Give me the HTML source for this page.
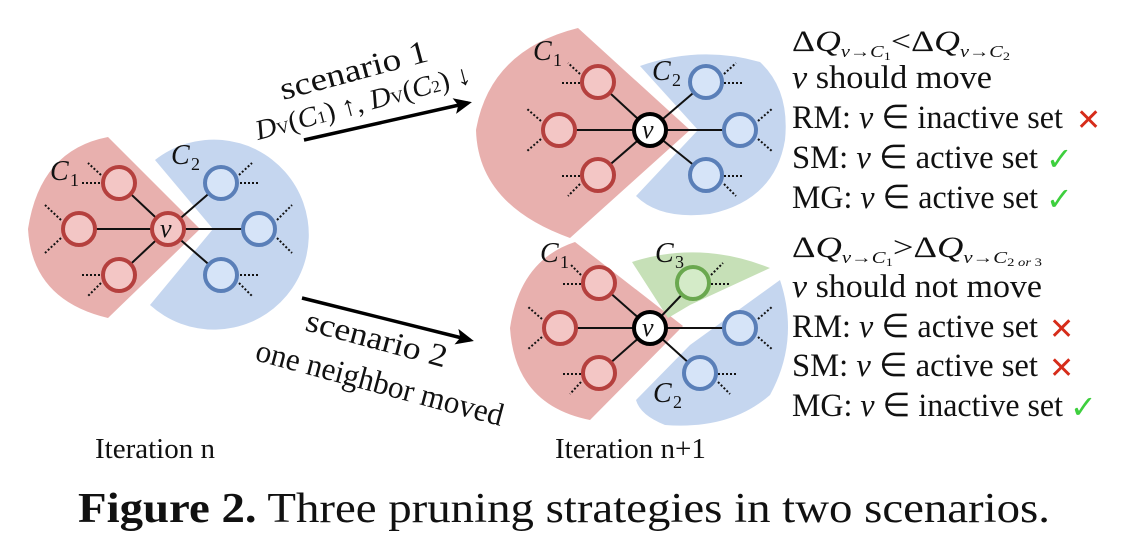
<!DOCTYPE html>
<html><head><meta charset="utf-8"><style>
html,body{margin:0;padding:0;background:#fff;}
svg{display:block;}
text{font-family:"Liberation Serif",serif;fill:#111;}
.i{font-style:italic;}
</style></head><body>
<svg width="1128" height="546" viewBox="0 0 1128 546" xmlns="http://www.w3.org/2000/svg">
<defs>
<marker id="ah" markerWidth="18" markerHeight="16" refX="14" refY="8" orient="auto" markerUnits="userSpaceOnUse">
<path d="M0,0 L18,8 L0,16 L4,8 Z" fill="#000"/></marker>
</defs>

<!-- LEFT GRAPH -->
<path d="M200,229 L108,137 Q40,150 28,229 Q32,300 108,318 Z" fill="#e8b0ae"/>
<path d="M213,229 L155,160 A95,95 0 1 1 150,305 Z" fill="#c5d6ef"/>
<g stroke="#111" stroke-width="2" stroke-dasharray="2,2">
<line x1="101" y1="175" x2="88" y2="163"/><line x1="100" y1="183" x2="80" y2="183"/>
<line x1="61" y1="220" x2="45" y2="205"/><line x1="61" y1="238" x2="45" y2="253"/>
<line x1="100" y1="275" x2="80" y2="275"/><line x1="101" y1="283" x2="88" y2="296"/>
<line x1="239" y1="175" x2="252" y2="163"/><line x1="240" y1="183" x2="258" y2="183"/>
<line x1="277" y1="220" x2="292" y2="205"/><line x1="277" y1="238" x2="292" y2="253"/>
<line x1="240" y1="275" x2="258" y2="275"/><line x1="239" y1="283" x2="252" y2="296"/>
</g>
<g stroke="#111" stroke-width="2">
<line x1="168" y1="229" x2="119" y2="183"/><line x1="168" y1="229" x2="79" y2="229"/><line x1="168" y1="229" x2="119" y2="275"/>
<line x1="168" y1="229" x2="221" y2="183"/><line x1="168" y1="229" x2="259" y2="229"/><line x1="168" y1="229" x2="221" y2="275"/>
</g>
<g fill="#f3c6c5" stroke="#b5403e" stroke-width="4">
<circle cx="119" cy="183" r="16"/><circle cx="79" cy="229" r="16"/><circle cx="119" cy="275" r="16"/><circle cx="168" cy="229" r="16"/>
</g>
<g fill="#d6e4f8" stroke="#5a7fb8" stroke-width="4">
<circle cx="221" cy="183" r="16"/><circle cx="259" cy="229" r="16"/><circle cx="221" cy="275" r="16"/>
</g>
<text x="160" y="237" class="i" font-size="26">v</text>
<text x="50" y="180" class="i" font-size="28">C</text><text x="70" y="186" font-size="18">1</text>
<text x="171" y="164" class="i" font-size="28">C</text><text x="191" y="170" font-size="18">2</text>

<!-- ARROWS -->
<line x1="304" y1="140" x2="468" y2="103" stroke="#000" stroke-width="3.5" marker-end="url(#ah)"/>
<line x1="302" y1="298" x2="470" y2="340" stroke="#000" stroke-width="3.5" marker-end="url(#ah)"/>
<text font-size="32" textLength="152" lengthAdjust="spacingAndGlyphs" transform="translate(283,100) rotate(-15)">scenario 1</text>
<text font-size="28" transform="translate(258,140) rotate(-15)" textLength="222" lengthAdjust="spacingAndGlyphs"><tspan class="i">D</tspan><tspan font-size="17">V</tspan>(<tspan class="i">C</tspan><tspan font-size="17">1</tspan>) ↑, <tspan class="i">D</tspan><tspan font-size="17">V</tspan>(<tspan class="i">C</tspan><tspan font-size="17">2</tspan>) ↓</text>
<text font-size="32" textLength="145" lengthAdjust="spacingAndGlyphs" transform="translate(304,330) rotate(15)">scenario 2</text>
<text font-size="32" textLength="255" lengthAdjust="spacingAndGlyphs" transform="translate(254,360) rotate(15)">one neighbor moved</text>

<!-- TOP RIGHT GRAPH -->
<path d="M690,130 L578,28 Q490,50 476,130 Q478,205 570,238 Z" fill="#e8b0ae"/>
<path d="M698,130 L640,66 Q700,45 760,62 Q790,90 785,140 Q775,200 710,214 Q660,220 636,196 Z" fill="#c5d6ef"/>
<g stroke="#111" stroke-width="2" stroke-dasharray="2,2">
<line x1="580" y1="74" x2="568" y2="63"/><line x1="580" y1="83" x2="560" y2="83"/>
<line x1="541" y1="121" x2="526" y2="108"/><line x1="541" y1="139" x2="526" y2="152"/>
<line x1="580" y1="176" x2="560" y2="176"/><line x1="580" y1="184" x2="568" y2="196"/>
<line x1="724" y1="74" x2="736" y2="63"/><line x1="724" y1="83" x2="744" y2="83"/>
<line x1="758" y1="121" x2="773" y2="108"/><line x1="758" y1="139" x2="773" y2="152"/>
<line x1="724" y1="176" x2="744" y2="176"/><line x1="724" y1="184" x2="736" y2="196"/>
</g>
<g stroke="#111" stroke-width="2">
<line x1="650" y1="130" x2="598" y2="82"/><line x1="650" y1="130" x2="559" y2="130"/><line x1="650" y1="130" x2="598" y2="175"/>
<line x1="650" y1="130" x2="706" y2="82"/><line x1="650" y1="130" x2="740" y2="130"/><line x1="650" y1="130" x2="706" y2="175"/>
</g>
<g fill="#f3c6c5" stroke="#b5403e" stroke-width="4">
<circle cx="598" cy="82" r="16"/><circle cx="559" cy="130" r="16"/><circle cx="598" cy="175" r="16"/>
</g>
<g fill="#d6e4f8" stroke="#5a7fb8" stroke-width="4">
<circle cx="706" cy="82" r="16"/><circle cx="740" cy="130" r="16"/><circle cx="706" cy="175" r="16"/>
</g>
<circle cx="650" cy="130" r="16" fill="#fff" stroke="#000" stroke-width="4"/>
<text x="642" y="138" class="i" font-size="26">v</text>
<text x="533" y="60" class="i" font-size="28">C</text><text x="553" y="66" font-size="18">1</text>
<text x="652" y="80" class="i" font-size="28">C</text><text x="672" y="86" font-size="18">2</text>

<!-- BOTTOM RIGHT GRAPH -->
<path d="M683,326 L575,242 Q520,260 510,328 Q515,405 590,420 Z" fill="#e8b0ae"/>
<path d="M668,318 L632,262 Q700,240 770,268 L690,305 Z" fill="#c6e0b7"/>
<path d="M690,345 L780,280 Q800,340 770,395 Q730,430 665,425 Q640,415 636,400 Z" fill="#c5d6ef"/>
<g stroke="#111" stroke-width="2" stroke-dasharray="2,2">
<line x1="581" y1="275" x2="570" y2="264"/><line x1="581" y1="284" x2="561" y2="284"/>
<line x1="542" y1="319" x2="527" y2="306"/><line x1="542" y1="337" x2="527" y2="350"/>
<line x1="581" y1="374" x2="561" y2="374"/><line x1="581" y1="382" x2="570" y2="394"/>
<line x1="711" y1="275" x2="723" y2="263"/><line x1="711" y1="284" x2="731" y2="284"/>
<line x1="758" y1="319" x2="773" y2="306"/><line x1="758" y1="337" x2="773" y2="350"/>
<line x1="718" y1="374" x2="738" y2="374"/><line x1="718" y1="382" x2="730" y2="394"/>
</g>
<g stroke="#111" stroke-width="2">
<line x1="650" y1="328" x2="599" y2="283"/><line x1="650" y1="328" x2="560" y2="328"/><line x1="650" y1="328" x2="599" y2="373"/>
<line x1="650" y1="328" x2="693" y2="283"/><line x1="650" y1="328" x2="740" y2="328"/><line x1="650" y1="328" x2="700" y2="373"/>
</g>
<g fill="#f3c6c5" stroke="#b5403e" stroke-width="4">
<circle cx="599" cy="283" r="16"/><circle cx="560" cy="328" r="16"/><circle cx="599" cy="373" r="16"/>
</g>
<circle cx="693" cy="283" r="16" fill="#d4ebc8" stroke="#6aa84f" stroke-width="4"/>
<g fill="#d6e4f8" stroke="#5a7fb8" stroke-width="4">
<circle cx="740" cy="328" r="16"/><circle cx="700" cy="373" r="16"/>
</g>
<circle cx="650" cy="328" r="16" fill="#fff" stroke="#000" stroke-width="4"/>
<text x="642" y="336" class="i" font-size="26">v</text>
<text x="540" y="262" class="i" font-size="28">C</text><text x="560" y="268" font-size="18">1</text>
<text x="655" y="262" class="i" font-size="28">C</text><text x="675" y="268" font-size="18">3</text>
<text x="653" y="402" class="i" font-size="28">C</text><text x="673" y="408" font-size="18">2</text>

<!-- RIGHT TEXT TOP -->
<text x="792" y="51" font-size="30" textLength="218" lengthAdjust="spacingAndGlyphs">Δ<tspan class="i">Q</tspan><tspan font-size="17" class="i" dy="6">v</tspan><tspan font-size="17">→</tspan><tspan font-size="17" class="i">C</tspan><tspan font-size="12" dy="3">1</tspan><tspan dy="-9">&lt;Δ</tspan><tspan class="i">Q</tspan><tspan font-size="17" class="i" dy="6">v</tspan><tspan font-size="17">→</tspan><tspan font-size="17" class="i">C</tspan><tspan font-size="12" dy="3">2</tspan></text>
<text x="792" y="88" font-size="33" textLength="200" lengthAdjust="spacingAndGlyphs"><tspan class="i">v</tspan> should move</text>
<text x="792" y="128" font-size="33" textLength="271" lengthAdjust="spacingAndGlyphs">RM: <tspan class="i">v</tspan> ∈ inactive set</text>
<text x="792" y="168" font-size="33" textLength="246" lengthAdjust="spacingAndGlyphs">SM: <tspan class="i">v</tspan> ∈ active set</text>
<text x="792" y="208" font-size="33" textLength="246" lengthAdjust="spacingAndGlyphs">MG: <tspan class="i">v</tspan> ∈ active set</text>
<text x="1076" y="130" font-size="30" style="fill:#d62c1a">✕</text>
<text x="1046" y="170" font-size="32" style="fill:#3ecf3e">✓</text>
<text x="1046" y="210" font-size="32" style="fill:#3ecf3e">✓</text>

<!-- RIGHT TEXT BOTTOM -->
<text x="792" y="257" font-size="30" textLength="250" lengthAdjust="spacingAndGlyphs">Δ<tspan class="i">Q</tspan><tspan font-size="17" class="i" dy="6">v</tspan><tspan font-size="17">→</tspan><tspan font-size="17" class="i">C</tspan><tspan font-size="12" dy="3">1</tspan><tspan dy="-9">&gt;Δ</tspan><tspan class="i">Q</tspan><tspan font-size="17" class="i" dy="6">v</tspan><tspan font-size="17">→</tspan><tspan font-size="17" class="i">C</tspan><tspan font-size="12" dy="3">2 <tspan class="i">or</tspan> 3</tspan></text>
<text x="792" y="297" font-size="33" textLength="250" lengthAdjust="spacingAndGlyphs"><tspan class="i">v</tspan> should not move</text>
<text x="792" y="337" font-size="33" textLength="246" lengthAdjust="spacingAndGlyphs">RM: <tspan class="i">v</tspan> ∈ active set</text>
<text x="792" y="376" font-size="33" textLength="246" lengthAdjust="spacingAndGlyphs">SM: <tspan class="i">v</tspan> ∈ active set</text>
<text x="792" y="416" font-size="33" textLength="271" lengthAdjust="spacingAndGlyphs">MG: <tspan class="i">v</tspan> ∈ inactive set</text>
<text x="1049" y="339" font-size="30" style="fill:#d62c1a">✕</text>
<text x="1049" y="378" font-size="30" style="fill:#d62c1a">✕</text>
<text x="1070" y="418" font-size="32" style="fill:#3ecf3e">✓</text>

<!-- LABELS -->
<text x="95" y="458" font-size="29">Iteration n</text>
<text x="555" y="458" font-size="29">Iteration n+1</text>
<text x="78" y="522" font-size="42" textLength="972" lengthAdjust="spacingAndGlyphs"><tspan font-weight="bold">Figure 2.</tspan> Three pruning strategies in two scenarios.</text>
</svg>
</body></html>
